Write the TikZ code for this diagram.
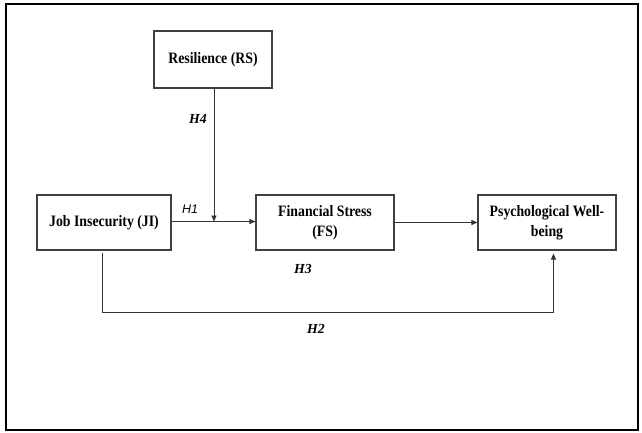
\documentclass[tikz,border=0pt]{standalone}
\usepackage{fontspec}
\usepackage{graphicx}
\setmainfont{Liberation Serif}
\newfontfamily\hsans{Liberation Sans}
\usetikzlibrary{arrows.meta}
\newcommand{\stxt}[2]{\raisebox{#1}{\scalebox{1}[1.15]{\begin{tabular}{@{}c@{}}#2\end{tabular}}}}
\tikzset{
  box/.style={draw=black!75, line width=1.1pt, rectangle, inner sep=0pt, align=center,
     font=\fontsize{13.8}{18}\selectfont\bfseries},
  conn/.style={draw=black!80, line width=0.9pt},
  arr/.style={conn, -{Triangle[length=6pt,width=5pt]}},
  hlab/.style={font=\fontsize{13.8}{16}\selectfont\bfseries\itshape, inner sep=0pt},
  hlabs/.style={font=\fontsize{12.5}{15}\selectfont\hsans\itshape, inner sep=0pt}
}
\begin{document}
\begin{tikzpicture}[x=1pt,y=-1pt]
\useasboundingbox (0,0) rectangle (642,432);
\draw[line width=2pt, black] (6,4) rectangle (638,429.5);
\node[box, minimum width=118pt, minimum height=57pt] (rs) at (213,59.5) {\stxt{6pt}{Resilience (RS)}};
\node[box, minimum width=134pt, minimum height=55pt] (ji) at (104,222.5) {\stxt{5pt}{Job Insecurity (JI)}};
\node[box, minimum width=138pt, minimum height=55pt] (fs) at (325,222.5) {\stxt{3pt}{Financial Stress\\(FS)}};
\node[box, minimum width=138pt, minimum height=55pt] (pwb) at (547,222.5) {\stxt{3pt}{Psychological Well-\\being}};
\coordinate (m) at (214,221.5);
\coordinate (h2a) at (102.5,312.5);
\draw[arr] (ji.east |- m) -- (fs.west |- m);
\draw[arr] (rs.south -| m) -- (m);
\draw[arr] (fs.east) -- (pwb.west);
\draw[arr] ([xshift=-1.5pt,yshift=-2.5pt]ji.south) |- ([xshift=6.5pt]pwb.south |- h2a) -- ([xshift=6.5pt,yshift=-3pt]pwb.south);
\node[hlabs] (h1) at (190,209) {H1};
\node[hlab] (h4) at (198,119) {H4};
\node[hlab] (h3) at (303,269) {H3};
\node[hlab] (h2) at (316,328.5) {H2};
\end{tikzpicture}
\end{document}
